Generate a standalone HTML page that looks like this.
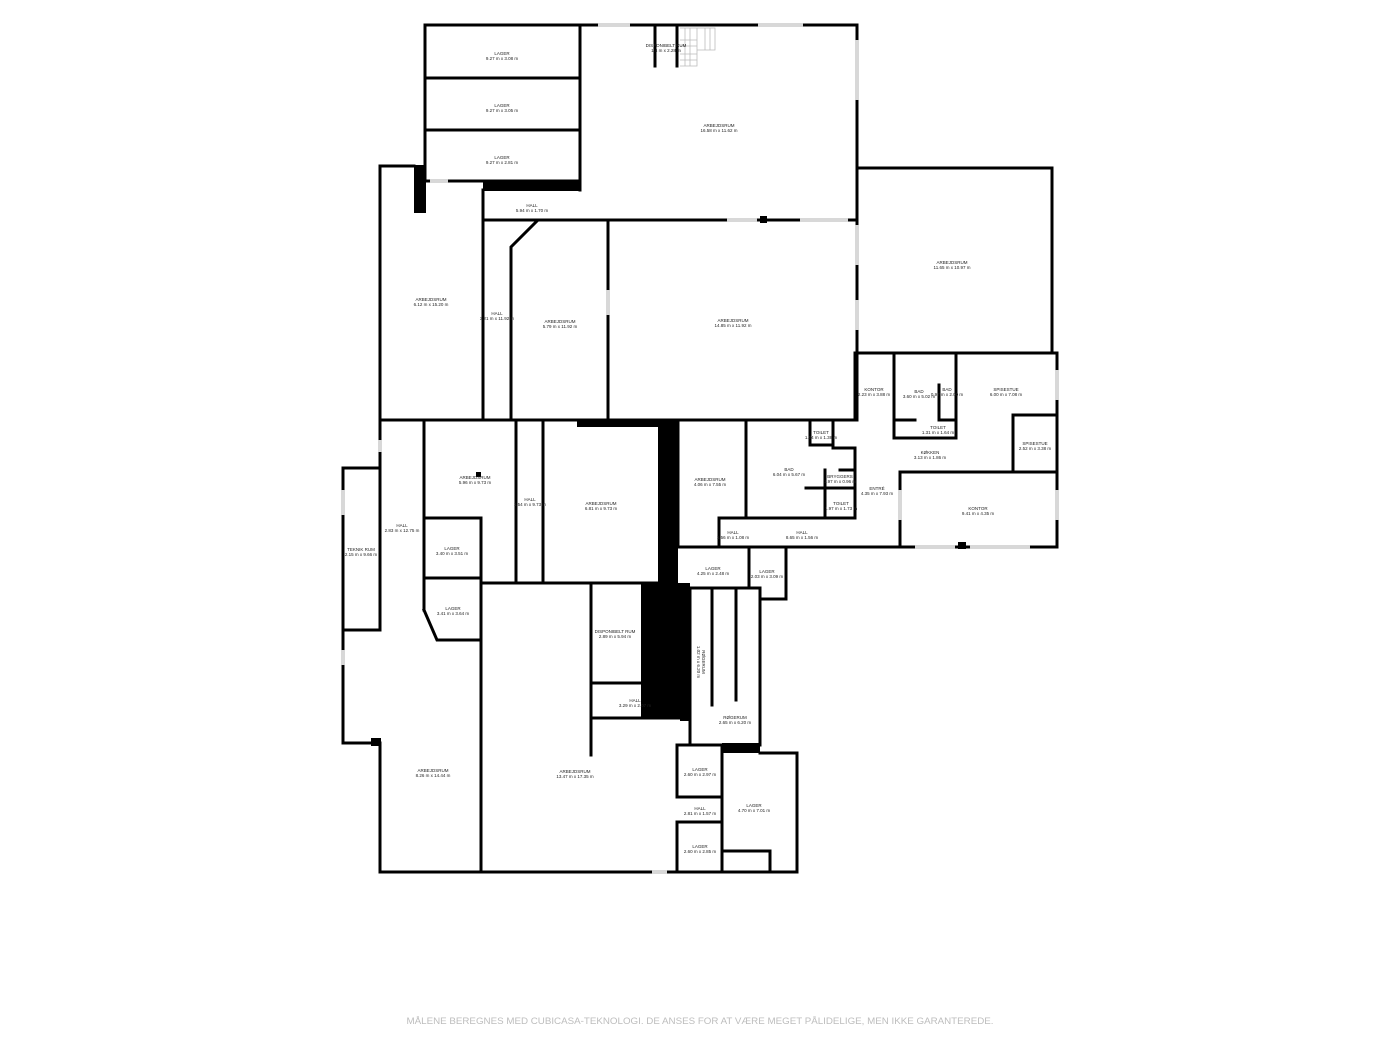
<!DOCTYPE html>
<html><head><meta charset="utf-8"><style>
html,body{margin:0;padding:0;background:#fff;}
svg{display:block;}
text{font-family:"Liberation Sans",sans-serif;font-size:4.5px;fill:#222;text-anchor:middle;}
</style></head><body>
<svg width="1400" height="1050" viewBox="0 0 1400 1050" xmlns="http://www.w3.org/2000/svg">
<g stroke="#000" stroke-width="3" fill="none" stroke-linecap="square">
<path d="M425 25 H857 V168"/>
<path d="M425 25 V181 H580"/>
<path d="M425 78 H580 M425 130 H580"/>
<path d="M580 25 V190"/>
<path d="M857 168 H1052 V353"/>
<path d="M857 168 V420"/>
<path d="M380 166 H414 M380 166 V420"/>
<path d="M483 190 V420"/>
<path d="M483 220 H857"/>
<path d="M537 221 L511 247 V420"/>
<path d="M608 221 V420"/>
<path d="M655 25 V66 M677 25 V66"/>
<path d="M380 420 H857"/>
<path d="M855 353 H1057 V547"/>
<path d="M855 353 V420"/>
<path d="M894 353 V438 H956 V353"/>
<path d="M939 385 V420 H956"/>
<path d="M894 420 H915"/>
<path d="M1013 415 V472 M1013 415 H1057"/>
<path d="M900 472 H1057"/>
<path d="M900 472 V547"/>
<path d="M750 547 H1057"/>
<path d="M746 420 V518"/>
<path d="M810 420 V445 H833 V420"/>
<path d="M833 448 H855 V518"/>
<path d="M825 470 V518 M806 488 H855 M840 470 H855"/>
<path d="M719 518 H855"/>
<path d="M719 518 V547"/>
<path d="M678 420 V547"/>
<path d="M678 547 H786 V599 H760"/>
<path d="M749 547 V588"/>
<path d="M678 588 H760"/>
<path d="M690 588 V745 M712 588 V705 M736 588 V700 M760 588 V745 M712 745 H760"/>
<path d="M380 420 V468 H343 V743 H380 V872 H797 V753 H760"/>
<path d="M343 630 H380 V468"/>
<path d="M424 420 V610"/>
<path d="M424 518 H481 M424 578 H481 M424 610 L437 640 H481"/>
<path d="M481 518 V872"/>
<path d="M516 420 V583 M543 420 V583 M481 583 H658"/>
<path d="M591 583 V755"/>
<path d="M591 683 H680 M591 718 H690"/>
<path d="M677 745 H722 M677 745 V797 H722 V745 M677 822 V872 M677 822 H722 V872"/>
<path d="M722 753 V872 M722 851 H770 V872"/>
</g>
<g fill="#d8d8d8">
<rect x="598" y="23" width="32" height="4"/>
<rect x="758" y="23" width="45" height="4"/>
<rect x="855" y="40" width="4" height="60"/>
<rect x="855" y="225" width="4" height="40"/>
<rect x="855" y="300" width="4" height="30"/>
<rect x="430" y="179" width="18" height="4"/>
<rect x="727" y="218" width="30" height="4"/>
<rect x="800" y="218" width="48" height="4"/>
<rect x="606" y="290" width="4" height="25"/>
<rect x="341" y="490" width="4" height="25"/>
<rect x="341" y="650" width="4" height="15"/>
<rect x="378" y="440" width="4" height="12"/>
<rect x="1055" y="370" width="4" height="30"/>
<rect x="1055" y="490" width="4" height="30"/>
<rect x="898" y="490" width="4" height="30"/>
<rect x="915" y="545" width="40" height="4"/>
<rect x="970" y="545" width="60" height="4"/>
<rect x="652" y="870" width="15" height="4"/>
</g>
<g stroke="#bbb" stroke-width="0.8" fill="none">
<path d="M680 28 H715 V50 H697 V66 H680 M685 28 V66 M690 28 V66 M697 28 V50 M705 28 V50 M710 28 V50 M680 40 H697 M680 46 H697 M680 54 H697 M680 60 H697"/>
</g>
<g fill="#000">
<rect x="414" y="165" width="12" height="48"/>
<rect x="483" y="180" width="98" height="11"/>
<rect x="577" y="419" width="81" height="8"/>
<rect x="658" y="419" width="20" height="164"/>
<rect x="641" y="583" width="49" height="135"/>
<rect x="680" y="583" width="10" height="138"/>
<rect x="722" y="743" width="38" height="10"/>
<rect x="371" y="738" width="10" height="8"/>
<rect x="476" y="472" width="5" height="5"/>
<rect x="760" y="216" width="7" height="7"/>
<rect x="958" y="542" width="8" height="7"/>
</g>
<g>
<text x="502" y="55">LAGER</text><text x="502" y="60">9.27 m x 3.08 m</text>
<text x="502" y="107">LAGER</text><text x="502" y="112">9.27 m x 3.05 m</text>
<text x="502" y="159">LAGER</text><text x="502" y="164">9.27 m x 2.81 m</text>
<text x="666" y="47">DISPONIBELT RUM</text><text x="666" y="52">1.4 m x 2.28 m</text>
<text x="719" y="127">ARBEJDSRUM</text><text x="719" y="132">16.58 m x 11.62 m</text>
<text x="532" y="207">HALL</text><text x="532" y="212">5.94 m x 1.70 m</text>
<text x="431" y="301">ARBEJDSRUM</text><text x="431" y="306">6.12 m x 15.20 m</text>
<text x="497" y="315">HALL</text><text x="497" y="320">3.21 m x 11.92 m</text>
<text x="560" y="323">ARBEJDSRUM</text><text x="560" y="328">5.79 m x 11.92 m</text>
<text x="733" y="322">ARBEJDSRUM</text><text x="733" y="327">14.85 m x 11.92 m</text>
<text x="952" y="264">ARBEJDSRUM</text><text x="952" y="269">11.65 m x 10.97 m</text>
<text x="874" y="391">KONTOR</text><text x="874" y="396">2.23 m x 3.88 m</text>
<text x="919" y="393">BAD</text><text x="919" y="398">3.60 m x 5.02 m</text>
<text x="947" y="391">BAD</text><text x="947" y="396">0.97 m x 2.00 m</text>
<text x="1006" y="391">SPISESTUE</text><text x="1006" y="396">6.00 m x 7.08 m</text>
<text x="938" y="429">TOILET</text><text x="938" y="434">1.31 m x 1.64 m</text>
<text x="930" y="454">KØKKEN</text><text x="930" y="459">3.13 m x 1.86 m</text>
<text x="1035" y="445">SPISESTUE</text><text x="1035" y="450">2.52 m x 3.38 m</text>
<text x="978" y="510">KONTOR</text><text x="978" y="515">9.41 m x 4.35 m</text>
<text x="877" y="490">ENTRÉ</text><text x="877" y="495">4.35 m x 7.93 m</text>
<text x="821" y="434">TOILET</text><text x="821" y="439">1.04 m x 1.38 m</text>
<text x="789" y="471">BAD</text><text x="789" y="476">6.04 m x 5.67 m</text>
<text x="840" y="478">BRYGGERS</text><text x="840" y="483">1.97 m x 0.96 m</text>
<text x="841" y="505">TOILET</text><text x="841" y="510">1.97 m x 1.73 m</text>
<text x="710" y="481">ARBEJDSRUM</text><text x="710" y="486">4.06 m x 7.55 m</text>
<text x="733" y="534">HALL</text><text x="733" y="539">1.56 m x 1.08 m</text>
<text x="802" y="534">HALL</text><text x="802" y="539">8.65 m x 1.56 m</text>
<text x="713" y="570">LAGER</text><text x="713" y="575">4.25 m x 2.48 m</text>
<text x="767" y="573">LAGER</text><text x="767" y="578">2.03 m x 3.09 m</text>
<text x="735" y="719">RØGERUM</text><text x="735" y="724">2.65 m x 6.20 m</text>
<text x="702" y="662" transform="rotate(90 702 662)">RØGERUM</text><text x="697" y="662" transform="rotate(90 697 662)">1.02 m x 6.20 m</text>
<text x="475" y="479">ARBEJDSRUM</text><text x="475" y="484">5.96 m x 9.73 m</text>
<text x="530" y="501">HALL</text><text x="530" y="506">1.54 m x 9.73 m</text>
<text x="601" y="505">ARBEJDSRUM</text><text x="601" y="510">6.81 m x 9.73 m</text>
<text x="402" y="527">HALL</text><text x="402" y="532">2.83 m x 12.75 m</text>
<text x="361" y="551">TEKNIK RUM</text><text x="361" y="556">2.15 m x 9.66 m</text>
<text x="452" y="550">LAGER</text><text x="452" y="555">3.40 m x 3.51 m</text>
<text x="453" y="610">LAGER</text><text x="453" y="615">3.41 m x 3.64 m</text>
<text x="615" y="633">DISPONIBELT RUM</text><text x="615" y="638">2.89 m x 5.94 m</text>
<text x="635" y="702">HALL</text><text x="635" y="707">3.29 m x 2.07 m</text>
<text x="433" y="772">ARBEJDSRUM</text><text x="433" y="777">8.26 m x 14.44 m</text>
<text x="575" y="773">ARBEJDSRUM</text><text x="575" y="778">13.47 m x 17.35 m</text>
<text x="700" y="771">LAGER</text><text x="700" y="776">2.60 m x 2.97 m</text>
<text x="700" y="810">HALL</text><text x="700" y="815">2.81 m x 1.57 m</text>
<text x="754" y="807">LAGER</text><text x="754" y="812">4.70 m x 7.01 m</text>
<text x="700" y="848">LAGER</text><text x="700" y="853">2.60 m x 2.85 m</text>
<text x="700" y="1024" style="font-size:9.5px;fill:#bdbdbd" textLength="587" lengthAdjust="spacingAndGlyphs">MÅLENE BEREGNES MED CUBICASA-TEKNOLOGI. DE ANSES FOR AT VÆRE MEGET PÅLIDELIGE, MEN IKKE GARANTEREDE.</text>
</g>
</svg>
</body></html>
